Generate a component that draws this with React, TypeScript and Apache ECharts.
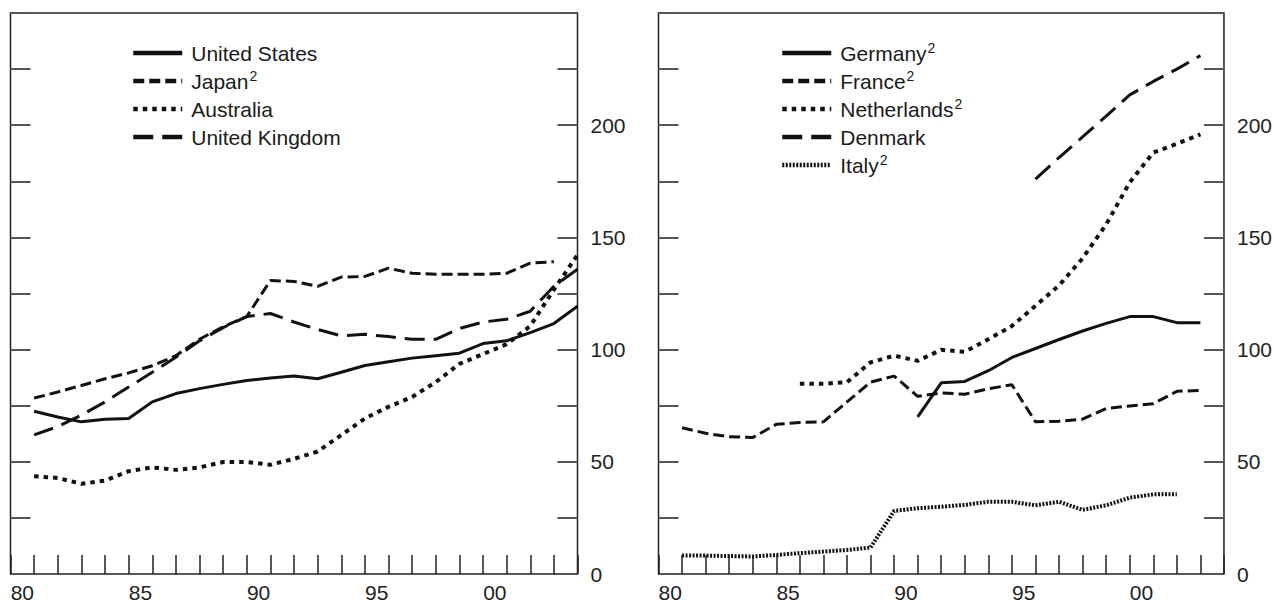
import React, { useEffect, useRef } from "react";
import * as echarts from "echarts";

// ---------- data ----------
const X_TICK_LABELS = [1980.5, 1985.5, 1990.5, 1995.5, 2000.5];
const Y_TICK_LABELS = [0, 50, 100, 150, 200];

// left panel
const US_YEARS = [1981, 1982, 1983, 1984, 1985, 1986, 1987, 1988, 1989, 1990, 1991, 1992, 1993, 1994, 1995, 1996, 1997, 1998, 1999, 2000, 2001, 2002, 2003, 2004];
const US = [72.5, 70, 67.8, 69, 69.3, 76.7, 80.4, 82.6, 84.5, 86.2, 87.3, 88.2, 87, 89.9, 92.9, 94.6, 96.2, 97.3, 98.4, 102.7, 103.9, 107.6, 111.6, 119.3];
const JAPAN_YEARS = [1981, 1982, 1983, 1984, 1985, 1986, 1987, 1988, 1989, 1990, 1991, 1992, 1993, 1994, 1995, 1996, 1997, 1998, 1999, 2000, 2001, 2002, 2003];
const JAPAN = [78.4, 81.1, 84, 87, 89.6, 92.8, 97.3, 104.6, 110.2, 114.7, 130.8, 130.4, 128.2, 132.3, 132.6, 136.3, 134, 133.6, 133.6, 133.6, 134, 138.5, 139.2];
const AUSTRALIA_YEARS = [1981, 1982, 1983, 1984, 1985, 1986, 1987, 1988, 1989, 1990, 1991, 1992, 1993, 1994, 1995, 1996, 1997, 1998, 1999, 2000, 2001, 2002, 2003, 2004];
const AUSTRALIA = [43.6, 42.8, 40.2, 41.6, 45.8, 47.5, 46.4, 47.5, 49.9, 49.9, 48.7, 51.3, 54.6, 61.9, 69.3, 74.5, 78.9, 85.5, 93.6, 98, 102.4, 110.5, 126.7, 142.2];
const UK_YEARS = [1981, 1982, 1983, 1984, 1985, 1986, 1987, 1988, 1989, 1990, 1991, 1992, 1993, 1994, 1995, 1996, 1997, 1998, 1999, 2000, 2001, 2002, 2003, 2004];
const UK = [62, 65.7, 70.8, 76.7, 83.3, 89.9, 96.6, 103.9, 109.8, 114.7, 116.1, 112.3, 109, 106.1, 106.8, 105.8, 104.6, 104.6, 109.4, 112.3, 113.5, 117.1, 128.2, 135.8];

// right panel
const GERMANY_YEARS = [1991, 1992, 1993, 1994, 1995, 1996, 1997, 1998, 1999, 2000, 2001, 2002, 2003];
const GERMANY = [70, 85.2, 85.8, 90.6, 96.5, 100.5, 104.5, 108.3, 111.7, 114.7, 114.7, 112, 112];
const FRANCE_YEARS = [1981, 1982, 1983, 1984, 1985, 1986, 1987, 1988, 1989, 1990, 1991, 1992, 1993, 1994, 1995, 1996, 1997, 1998, 1999, 2000, 2001, 2002, 2003];
const FRANCE = [65.2, 62.7, 61.2, 60.8, 66.7, 67.5, 67.8, 76.7, 85.5, 88.2, 79.2, 80.7, 80.1, 82.6, 84.3, 67.8, 68.1, 69, 73.7, 74.9, 75.9, 81.4, 81.8];
const NETHERLANDS_YEARS = [1986, 1987, 1988, 1989, 1990, 1991, 1992, 1993, 1994, 1995, 1996, 1997, 1998, 1999, 2000, 2001, 2002, 2003];
const NETHERLANDS = [84.8, 84.8, 85.5, 94.3, 97.3, 95, 99.9, 99, 104.6, 110.5, 119.5, 128.6, 140.7, 155.8, 174.5, 187.8, 191.7, 195.9];
const DENMARK_YEARS = [1996, 1997, 1998, 1999, 2000, 2001, 2002, 2003];
const DENMARK = [176, 185.6, 194.8, 204, 213.5, 219.5, 225, 231];
const ITALY_YEARS = [1981, 1982, 1983, 1984, 1985, 1986, 1987, 1988, 1989, 1990, 1991, 1992, 1993, 1994, 1995, 1996, 1997, 1998, 1999, 2000, 2001, 2002];
const ITALY = [8.2, 8.2, 8, 7.8, 8.5, 9.3, 10, 10.7, 11.8, 28.1, 29.3, 30, 30.8, 32.2, 32.2, 30.6, 32.2, 28.6, 30.6, 34, 35.5, 35.5];

const LEFT_NAMES = ["United States", "Japan", "Australia", "United Kingdom"];
const RIGHT_NAMES = ["Germany", "France", "Netherlands", "Denmark", "Italy"];
const SUPERSCRIPTED = ["Japan", "Germany", "France", "Netherlands", "Italy"];

// ---------- styles ----------
const FONT = "'Liberation Sans', Arial, Helvetica, sans-serif";
const INK = "#111";
const SOLID = { type: "solid" as any, width: 3 };
const SHORT_DASH = { type: [11, 5] as any, width: 3 };
const DOTTED = { type: [4.5, 5] as any, width: 4 };
const LONG_DASH = { type: [20, 9] as any, width: 3 };
const FINE_DOT = { type: [2, 1.5] as any, width: 4 };

const pairs = (xs: number[], ys: number[]) => xs.map((x, i) => [x, ys[i]]);

function xAxis(gridIndex: number) {
  return {
    type: "value",
    gridIndex,
    min: 1980,
    max: 2004,
    interval: 1,
    axisLine: { show: false },
    splitLine: { show: false },
    axisTick: { show: true, inside: true, length: 19, lineStyle: { color: "#222", width: 1.5 } },
    axisLabel: {
      show: true,
      customValues: X_TICK_LABELS,
      formatter: (v: number) => String(Math.floor(v) % 100).padStart(2, "0"),
      fontSize: 21,
      fontFamily: FONT,
      color: "#222",
      margin: 8,
    },
  };
}

function yAxis(gridIndex: number, position: "left" | "right", labels: boolean) {
  return {
    type: "value",
    gridIndex,
    position,
    min: 0,
    max: 250,
    interval: 25,
    axisLine: { show: false },
    splitLine: { show: false },
    axisTick: { show: true, inside: true, length: 20, lineStyle: { color: "#555", width: 2 } },
    axisLabel: labels
      ? { show: true, customValues: Y_TICK_LABELS, fontSize: 21, fontFamily: FONT, color: "#222", margin: 13 }
      : { show: false },
  };
}

function line(name: string, xs: number[], ys: number[], style: any, grid: number) {
  return {
    type: "line",
    name,
    xAxisIndex: grid,
    yAxisIndex: grid * 2,
    data: pairs(xs, ys),
    symbol: "none",
    showSymbol: false,
    smooth: false,
    lineStyle: { color: INK, ...style },
    itemStyle: { color: INK },
    z: 3,
  };
}

function legend(names: string[], left: number) {
  return {
    data: names,
    orient: "vertical",
    left,
    top: 41,
    padding: 0,
    itemWidth: 49,
    itemHeight: 14,
    itemGap: 4,
    selectedMode: false,
    itemStyle: { opacity: 0, color: "transparent", borderWidth: 0 },
    lineStyle: { width: 4.5 },
    formatter: (n: string) => (SUPERSCRIPTED.includes(n) ? `${n}{sup|2}` : n),
    textStyle: {
      fontSize: 21,
      fontFamily: FONT,
      color: "#1a1a1a",
      lineHeight: 24,
      padding: [0, 0, 0, 4],
      rich: {
        sup: { fontSize: 14, fontFamily: FONT, color: "#1a1a1a", verticalAlign: "top", lineHeight: 12, padding: [0, 0, 6, 1] },
      },
    },
  };
}

export default function App() {
  const ref = useRef<HTMLDivElement>(null);

  useEffect(() => {
    if (!ref.current) return;
    const chart = echarts.init(ref.current, undefined, { renderer: "svg" });
    chart.setOption({
      animation: false,
      backgroundColor: "#fff",
      grid: [
        { left: 10.5, top: 13, width: 567, height: 564, show: true, borderColor: "#222", borderWidth: 1.5, backgroundColor: "transparent" },
        { left: 658.5, top: 13, width: 566.5, height: 564, show: true, borderColor: "#222", borderWidth: 1.5, backgroundColor: "transparent" },
      ],
      xAxis: [xAxis(0), xAxis(1)],
      yAxis: [yAxis(0, "left", false), yAxis(0, "right", true), yAxis(1, "left", false), yAxis(1, "right", true)],
      legend: [legend(LEFT_NAMES, 131), legend(RIGHT_NAMES, 780)],
      series: [
        line("United States", US_YEARS, US, SOLID, 0),
        line("Japan", JAPAN_YEARS, JAPAN, SHORT_DASH, 0),
        line("Australia", AUSTRALIA_YEARS, AUSTRALIA, DOTTED, 0),
        line("United Kingdom", UK_YEARS, UK, LONG_DASH, 0),
        line("Germany", GERMANY_YEARS, GERMANY, SOLID, 1),
        line("France", FRANCE_YEARS, FRANCE, SHORT_DASH, 1),
        line("Netherlands", NETHERLANDS_YEARS, NETHERLANDS, DOTTED, 1),
        line("Denmark", DENMARK_YEARS, DENMARK, LONG_DASH, 1),
        line("Italy", ITALY_YEARS, ITALY, FINE_DOT, 1),
      ],
    });
    return () => chart.dispose();
  }, []);

  return (
    <div
      ref={ref}
      style={{ position: "absolute", left: 0, top: 0, width: 1275, height: 603, background: "#fff" }}
    />
  );
}
